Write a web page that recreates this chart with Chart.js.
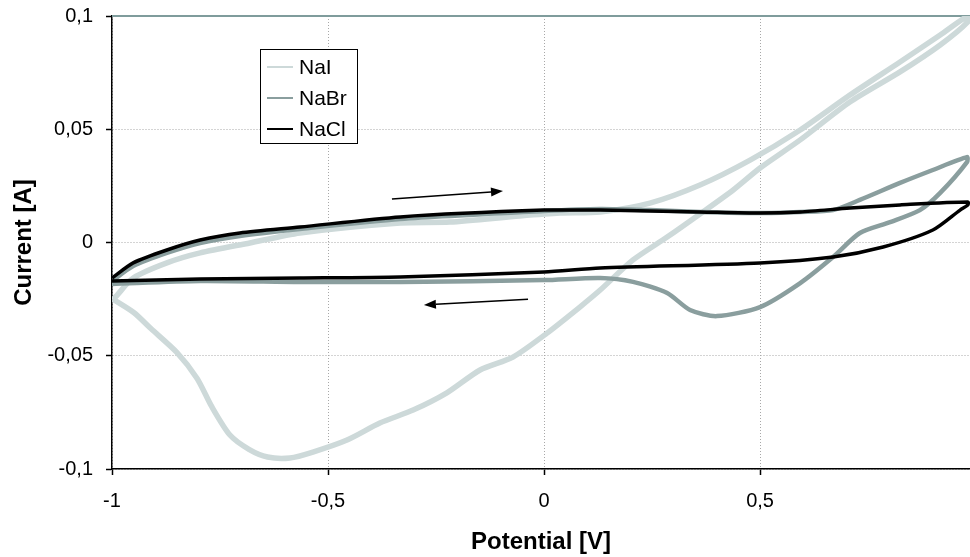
<!DOCTYPE html>
<html>
<head>
<meta charset="utf-8">
<title>Cyclic voltammograms</title>
<script src="https://cdn.jsdelivr.net/npm/chart.js@4.4.1/dist/chart.umd.min.js"></script>
<style>
    html, body { margin: 0; padding: 0; background: #fff; }
    canvas { display: block; }
</style>
</head>
<body>
<canvas id="cvChart" width="970" height="557"></canvas>
<script>
// Series: potential [V] and current [A]
const naiPotential = [-0.998, -0.988, -0.951, -0.873, -0.796, -0.681, -0.565, -0.333, -0.218, -0.056, 0.037, 0.130, 0.245, 0.361, 0.477, 0.593, 0.708, 0.824, 0.917, 0.981,
    0.981, 0.917, 0.824, 0.708, 0.593, 0.500, 0.438, 0.361, 0.285, 0.206, 0.130, 0.083, 0.007, -0.072, -0.148, -0.225, -0.303, -0.380, -0.456, -0.535, -0.588, -0.640, -0.683, -0.727, -0.769, -0.803, -0.850, -0.910, -0.949, -0.998];
const naiCurrent = [-0.0254, -0.0232, -0.0157, -0.0090, -0.0046, -0.0002, 0.0042, 0.0086, 0.0090, 0.0117, 0.0130, 0.0135, 0.0174, 0.0254, 0.0364, 0.0497, 0.0651, 0.0797, 0.0916, 0.1000,
    0.0974, 0.0872, 0.0753, 0.0620, 0.0453, 0.0329, 0.0232, 0.0126, 0.0024, -0.0077, -0.0210, -0.0285, -0.0400, -0.0506, -0.0563, -0.0664, -0.0740, -0.0797, -0.0872, -0.0925, -0.0951, -0.0947, -0.0913, -0.0850, -0.0725, -0.0600, -0.0485, -0.0380, -0.0310, -0.0250];

const nabrPotential = [-1.0, -0.951, -0.873, -0.796, -0.704, -0.565, -0.333, 0.0, 0.130, 0.245, 0.361, 0.500, 0.593, 0.669, 0.731, 0.824, 0.900, 0.979,
    0.979, 0.917, 0.870, 0.801, 0.731, 0.669, 0.593, 0.500, 0.400, 0.338, 0.285, 0.206, 0.130, 0.0, -0.333, -0.565, -0.796, -1.0];
const nabrCurrent = [-0.0170, -0.0104, -0.0046, -0.0002, 0.0029, 0.0060, 0.0104, 0.0139, 0.0148, 0.0143, 0.0135, 0.0130, 0.0135, 0.0143, 0.0188, 0.0263, 0.0320, 0.0377,
    0.0355, 0.0219, 0.0143, 0.0090, 0.0042, -0.0064, -0.0179, -0.0285, -0.0325, -0.0298, -0.0223, -0.0174, -0.0157, -0.0166, -0.0174, -0.0174, -0.0170, -0.0183];

const naclPotential = [-1.0, -0.951, -0.873, -0.796, -0.704, -0.565, -0.333, 0.0, 0.130, 0.245, 0.361, 0.500, 0.593, 0.708, 0.824, 0.981,
    0.981, 0.963, 0.900, 0.785, 0.669, 0.500, 0.130, 0.0, -0.333, -0.565, -0.796, -1.0];
const naclCurrent = [-0.0157, -0.0090, -0.0033, 0.0011, 0.0042, 0.0068, 0.0113, 0.0143, 0.0143, 0.0139, 0.0135, 0.0130, 0.0135, 0.0152, 0.0166, 0.0179,
    0.0166, 0.0143, 0.0055, -0.0020, -0.0064, -0.0090, -0.0113, -0.0130, -0.0152, -0.0157, -0.0161, -0.0170];

const seriesLabels = ['NaI', 'NaBr', 'NaCl'];
const xTicks = [-1, -0.5, 0, 0.5];

// Scan direction arrows (data coordinates: [x0, y0, x1, y1])
const arrows = [
    [-0.352, 0.0192, -0.095, 0.0227],
    [-0.037, -0.0251, -0.278, -0.0276]
];

const FONT = '"Liberation Sans", Arial, sans-serif';

function toPoints(xs, ys) {
    return xs.map((x, i) => ({ x: x, y: ys[i] }));
}

function commaNum(v) {
    return String(+v.toFixed(2)).replace('.', ',');
}

// Grey top edge of the plot area
const plotFrame = {
    id: 'plotFrame',
    beforeDatasetsDraw(chart) {
        const { ctx, chartArea } = chart;
        ctx.save();
        ctx.strokeStyle = '#7f9c9c';
        ctx.lineWidth = 2;
        ctx.beginPath();
        ctx.moveTo(chartArea.left, chartArea.top);
        ctx.lineTo(chartArea.right, chartArea.top);
        ctx.stroke();
        ctx.restore();
    }
};

// Arrows showing scan direction
const scanArrows = {
    id: 'scanArrows',
    afterDatasetsDraw(chart) {
        const { ctx, scales } = chart;
        ctx.save();
        ctx.strokeStyle = '#000';
        ctx.fillStyle = '#000';
        ctx.lineWidth = 1.5;
        arrows.forEach(a => {
            const x0 = scales.x.getPixelForValue(a[0]);
            const y0 = scales.y.getPixelForValue(a[1]);
            const x1 = scales.x.getPixelForValue(a[2]);
            const y1 = scales.y.getPixelForValue(a[3]);
            const ang = Math.atan2(y1 - y0, x1 - x0);
            const len = 12, half = 4.5;
            const bx = x1 - len * Math.cos(ang), by = y1 - len * Math.sin(ang);
            ctx.beginPath();
            ctx.moveTo(x0, y0);
            ctx.lineTo(bx, by);
            ctx.stroke();
            ctx.beginPath();
            ctx.moveTo(x1, y1);
            ctx.lineTo(bx + half * Math.sin(ang), by - half * Math.cos(ang));
            ctx.lineTo(bx - half * Math.sin(ang), by + half * Math.cos(ang));
            ctx.closePath();
            ctx.fill();
        });
        ctx.restore();
    }
};

// Boxed legend inside the plot, top left
const boxLegend = {
    id: 'boxLegend',
    afterDatasetsDraw(chart) {
        const { ctx, chartArea } = chart;
        const x = chartArea.left + 148, y = chartArea.top + 33;
        const w = 97, h = 94;
        ctx.save();
        ctx.fillStyle = '#fff';
        ctx.fillRect(x, y, w, h);
        ctx.strokeStyle = '#000';
        ctx.lineWidth = 1;
        ctx.strokeRect(x + 0.5, y + 0.5, w, h);
        ctx.font = '21px ' + FONT;
        ctx.textBaseline = 'middle';
        ctx.textAlign = 'left';
        chart.data.datasets.forEach((ds, i) => {
            const cy = y + 18 + i * 31;
            ctx.strokeStyle = ds.borderColor;
            ctx.lineWidth = 2;
            ctx.beginPath();
            ctx.moveTo(x + 7, cy);
            ctx.lineTo(x + 33, cy);
            ctx.stroke();
            ctx.fillStyle = '#000';
            ctx.fillText(ds.label, x + 39, cy + 1);
        });
        ctx.restore();
    }
};

const ctx = document.getElementById('cvChart').getContext('2d');

new Chart(ctx, {
    type: 'scatter',
    data: {
        datasets: [
            {
                label: seriesLabels[0],
                data: toPoints(naiPotential, naiCurrent),
                borderColor: '#cdd9d9',
                borderWidth: 5.5,
                order: 3
            },
            {
                label: seriesLabels[1],
                data: toPoints(nabrPotential, nabrCurrent),
                borderColor: '#8a9e9e',
                borderWidth: 4.5,
                order: 2
            },
            {
                label: seriesLabels[2],
                data: toPoints(naclPotential, naclCurrent),
                borderColor: '#000000',
                borderWidth: 3.5,
                order: 1
            }
        ].map(ds => Object.assign(ds, {
            showLine: true,
            pointRadius: 0,
            pointHoverRadius: 0,
            tension: 0.25,
            fill: false
        }))
    },
    options: {
        responsive: false,
        animation: false,
        layout: { padding: { top: 16, right: 0, left: 0, bottom: 0 } },
        plugins: {
            legend: { display: false },
            tooltip: { enabled: false }
        },
        scales: {
            x: {
                type: 'linear',
                min: -1,
                max: 0.986,
                afterFit: scale => { scale.height = 88; scale.paddingLeft = 0; scale.paddingRight = 0; },
                afterBuildTicks: scale => { scale.ticks = xTicks.map(v => ({ value: v })); },
                ticks: {
                    color: '#000',
                    font: { family: FONT, size: 20 },
                    padding: 14,
                    maxRotation: 0,
                    callback: v => commaNum(v)
                },
                grid: {
                    color: '#a8a8a8',
                    lineWidth: 1,
                    tickColor: '#000',
                    tickLength: 6,
                    tickWidth: 1.5
                },
                border: { color: '#000', width: 1.5, dash: [1, 2] },
                title: {
                    display: true,
                    text: 'Potential [V]',
                    color: '#000',
                    font: { family: FONT, size: 24, weight: 'bold' },
                    padding: { top: 0, bottom: 0 }
                }
            },
            y: {
                type: 'linear',
                min: -0.1,
                max: 0.1,
                afterFit: scale => { scale.width = 112; scale.paddingTop = 0; scale.paddingBottom = 0; },
                ticks: {
                    stepSize: 0.05,
                    color: '#000',
                    font: { family: FONT, size: 20 },
                    padding: 13,
                    callback: v => commaNum(v)
                },
                grid: {
                    color: '#a8a8a8',
                    lineWidth: 1,
                    tickColor: '#000',
                    tickLength: 6,
                    tickWidth: 1.5
                },
                border: { color: '#000', width: 1.5, dash: [1, 2] },
                title: {
                    display: true,
                    text: 'Current [A]',
                    color: '#000',
                    font: { family: FONT, size: 24, weight: 'bold' },
                    padding: { top: 10, bottom: 0 }
                }
            }
        }
    },
    plugins: [plotFrame, scanArrows, boxLegend]
});
</script>
</body>
</html>
